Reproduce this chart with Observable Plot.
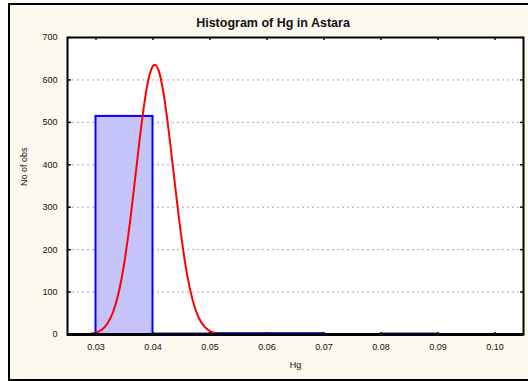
<!DOCTYPE html>
<html>
<head>
<meta charset="utf-8">
<script src="https://cdn.jsdelivr.net/npm/d3@7"></script>
<script src="https://cdn.jsdelivr.net/npm/@observablehq/plot@0.6"></script>
<style>
  html, body { margin: 0; padding: 0; background: #ffffff; }
  #wrap { position: relative; width: 528px; height: 381px; overflow: hidden; font-family: "Liberation Sans", Arial, sans-serif; }
  #box { position: absolute; left: 8px; top: 3px; width: 540px; height: 378px; box-sizing: border-box; border: 2px solid #000; background: #fdf9ef; }
  #title { position: absolute; left: 173px; width: 200px; top: 16px; text-align: center; font-weight: bold; font-size: 12.5px; color: #111; }
  #chart { position: absolute; left: 0; top: 0; }
</style>
</head>
<body>
<div id="wrap">
  <div id="box"></div>
  <div id="chart"></div>
  <div id="title">Histogram of Hg in Astara</div>
</div>
<script>
// Histogram bins (Hg) and counts
const binStart = [0.03, 0.04, 0.05, 0.06, 0.07, 0.08, 0.09];
const binEnd   = [0.04, 0.05, 0.06, 0.07, 0.08, 0.09, 0.10];
const counts   = [514, 1, 2, 2, 0, 1, 0];

// Fitted normal curve
const curveX = [0.025, 0.027, 0.028, 0.029, 0.030, 0.031, 0.032, 0.033, 0.034, 0.035, 0.036, 0.037, 0.038, 0.039, 0.040, 0.0403, 0.041, 0.042, 0.043, 0.044, 0.045, 0.046, 0.047, 0.048, 0.049, 0.050, 0.051, 0.052, 0.053, 0.055, 0.060, 0.070, 0.080, 0.090, 0.100, 0.105];
const curveY = [0, 0.1, 0.5, 1.5, 4.6, 11, 26, 53, 100, 172, 269, 383, 497, 588, 633, 636, 622, 556, 453, 337, 228, 140, 79, 40, 19, 8, 3, 1, 0.3, 0, 0, 0, 0, 0, 0, 0];

const xTicks = [0.03, 0.04, 0.05, 0.06, 0.07, 0.08, 0.09, 0.10];
const yTicks = [0, 100, 200, 300, 400, 500, 600, 700];
const gridTicks = [100, 200, 300, 400, 500, 600];
const xLabel = "Hg";
const yLabel = "No of obs";

const bins = binStart.map((s, i) => ({x1: s, x2: binEnd[i], count: counts[i]}));
const curve = curveX.map((x, i) => ({x, y: curveY[i]}));

const chart = Plot.plot({
  width: 528,
  height: 381,
  marginLeft: 67,
  marginRight: 5,
  marginTop: 37,
  marginBottom: 47,
  style: {background: "transparent", fontFamily: "Liberation Sans, Arial, sans-serif", fontSize: "9px", color: "#111"},
  x: {domain: [0.025, 0.105]},
  y: {domain: [0, 700]},
  marks: [
    Plot.frame({fill: "white", stroke: null}),
    Plot.gridY(gridTicks, {stroke: "#a8a8a8", strokeOpacity: 1, strokeDasharray: "2,3"}),
    Plot.rectY(bins.filter(d => d.count > 0), {x1: "x1", x2: "x2", y: "count", fill: "#c4c4fa", stroke: "#0000ff", strokeWidth: 2}),
    Plot.line(curve, {x: "x", y: "y", stroke: "#ff0000", strokeWidth: 2, curve: "monotone-x"}),
    Plot.frame({stroke: "#000", strokeWidth: 2}),
    Plot.ruleY([0], {stroke: "#000", strokeWidth: 3}),
    Plot.axisX(xTicks, {anchor: "bottom", tickSize: 0, tickPadding: 9, tickFormat: d3.format(".2f"), label: null, fill: "#111"}),
    Plot.axisY(yTicks, {anchor: "left", tickSize: 0, tickPadding: 10, label: null, fill: "#111"}),
    Plot.axisX(xTicks, {anchor: "top", frameAnchor: "bottom", tickSize: 3, text: null, label: null, strokeWidth: 1.5}),
    Plot.axisX(xTicks, {anchor: "bottom", frameAnchor: "top", tickSize: 3, text: null, label: null, strokeWidth: 1.5}),
    Plot.axisY(yTicks, {anchor: "right", frameAnchor: "left", tickSize: 3, text: null, label: null, strokeWidth: 1.5}),
    Plot.axisY(yTicks, {anchor: "left", frameAnchor: "right", tickSize: 3, text: null, label: null, strokeWidth: 1.5}),
    Plot.text([xLabel], {frameAnchor: "bottom", dy: 33, fill: "#111", fontSize: 9}),
    Plot.text([yLabel], {frameAnchor: "left", dx: -43, rotate: -90, fill: "#111", fontSize: 9})
  ]
});
document.getElementById("chart").appendChild(chart);
</script>
</body>
</html>
